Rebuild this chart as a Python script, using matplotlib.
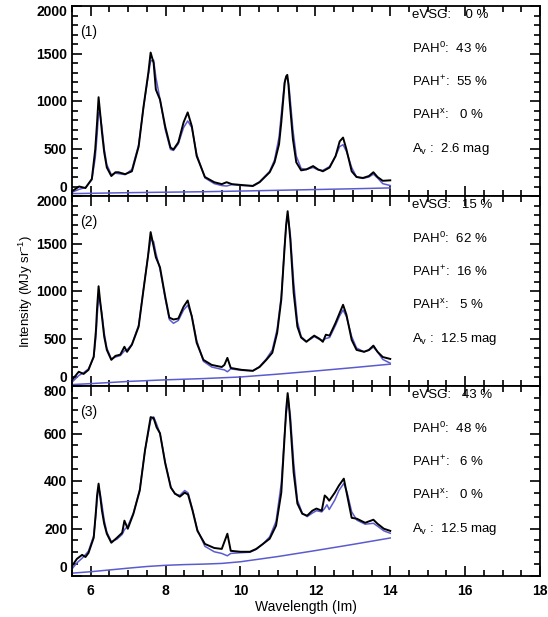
import matplotlib
matplotlib.use('Agg')
import matplotlib.pyplot as plt
from matplotlib.ticker import MultipleLocator
from matplotlib.transforms import ScaledTranslation

plt.rcParams['font.family'] = ['Liberation Sans', 'DejaVu Sans']
plt.rcParams['mathtext.fontset'] = 'custom'
plt.rcParams['mathtext.rm'] = 'Liberation Sans'
plt.rcParams['mathtext.it'] = 'Liberation Sans'

# ---- panel (1) ----
wl1 = [5.5, 5.69, 5.86, 6.03, 6.12, 6.17, 6.21, 6.25, 6.3, 6.36, 6.43, 6.55, 6.66, 6.74, 6.92, 7.1,
       7.28, 7.41, 7.54, 7.6, 7.68, 7.74, 7.85, 7.99, 8.13, 8.21, 8.34, 8.48, 8.59, 8.7, 8.83, 9.05,
       9.3, 9.5, 9.63, 9.77, 10.05, 10.33, 10.51, 10.78, 10.91, 11.03, 11.09, 11.18, 11.22, 11.25,
       11.28, 11.31, 11.4, 11.49, 11.62, 11.76, 11.94, 12.07, 12.2, 12.38, 12.54, 12.65, 12.74,
       12.83, 12.97, 13.1, 13.27, 13.43, 13.55, 13.66, 13.8, 14.0]
obs1 = [50, 100, 84, 180, 490, 775, 1040, 880, 670, 460, 300, 210, 250, 250, 230, 260,
        520, 940, 1300, 1510, 1400, 1120, 1015, 730, 510, 490, 565, 775, 880, 735, 420, 200,
        145, 125, 145, 125, 115, 105, 145, 250, 355, 545, 775, 1190, 1260, 1275,
        1180, 1015, 600, 355, 270, 280, 315, 280, 260, 300, 420, 575, 615,
        490, 260, 200, 190, 210, 250, 200, 160, 165]
mod1 = [40, 70, 90, 170, 400, 640, 880, 860, 720, 500, 330, 225, 240, 235, 225, 280,
        540, 930, 1280, 1420, 1430, 1250, 1020, 700, 490, 480, 550, 720, 790, 720, 440, 190,
        130, 110, 105, 120, 110, 110, 150, 260, 380, 620, 860, 1210, 1250, 1240,
        1190, 1100, 700, 420, 290, 280, 300, 275, 270, 310, 420, 520, 540,
        470, 300, 200, 185, 200, 230, 190, 130, 110]
cwl1 = [5.5, 7, 8, 9, 10, 11, 12, 13, 14]
cont1 = [25, 35, 40, 45, 52, 60, 68, 76, 85]

# ---- panel (2) ----
wl2 = [5.5, 5.68, 5.81, 5.94, 6.08, 6.14, 6.17, 6.21, 6.25, 6.3, 6.36, 6.43, 6.55, 6.66, 6.79, 6.9,
       6.97, 7.1, 7.28, 7.41, 7.53, 7.6, 7.68, 7.74, 7.85, 7.99, 8.1, 8.21, 8.34, 8.48, 8.59, 8.7,
       8.83, 9.01, 9.23, 9.5, 9.57, 9.65, 9.74, 10.03, 10.33, 10.51, 10.69, 10.85, 10.98, 11.09,
       11.18, 11.22, 11.26, 11.29, 11.33, 11.42, 11.52, 11.62, 11.76, 11.9, 11.97, 12.11, 12.2,
       12.28, 12.38, 12.54, 12.65, 12.74, 12.83, 12.97, 13.1, 13.3, 13.43, 13.55, 13.66, 13.8, 14.0]
obs2 = [63, 150, 127, 170, 310, 590, 820, 1050, 900, 730, 520, 380, 275, 317, 330, 413,
        360, 435, 625, 1015, 1365, 1620, 1470, 1355, 1250, 940, 720, 700, 710, 835, 900, 730,
        455, 275, 222, 200, 222, 296, 190, 170, 160, 200, 275, 350, 560, 910,
        1470, 1700, 1840, 1720, 1545, 985, 625, 510, 465, 510, 530, 497, 465,
        540, 530, 665, 770, 855, 750, 485, 380, 360, 380, 425, 360, 305, 285]
mod2 = [40, 110, 140, 180, 300, 520, 730, 920, 880, 760, 560, 400, 285, 305, 320, 370,
        380, 440, 640, 1020, 1370, 1540, 1520, 1400, 1230, 920, 700, 660, 690, 800, 850, 740,
        480, 260, 200, 175, 170, 150, 180, 165, 160, 205, 285, 380, 600, 950,
        1480, 1680, 1780, 1720, 1600, 1100, 680, 520, 470, 500, 520, 490, 480,
        500, 510, 640, 740, 800, 730, 520, 400, 360, 375, 410, 360, 280, 240]
cwl2 = [5.5, 6, 7, 8, 9, 10, 11, 12, 13, 14]
cont2 = [15, 25, 48, 65, 78, 95, 125, 158, 193, 230]

# ---- panel (3) ----
wl3 = [5.5, 5.63, 5.77, 5.86, 5.94, 6.08, 6.14, 6.17, 6.21, 6.25, 6.3, 6.36, 6.43, 6.55, 6.7, 6.84,
       6.9, 6.99, 7.14, 7.31, 7.45, 7.6, 7.68, 7.76, 7.85, 7.99, 8.14, 8.25, 8.38, 8.51, 8.6, 8.72,
       8.85, 9.05, 9.3, 9.5, 9.65, 9.74, 10.0, 10.25, 10.42, 10.6, 10.78, 10.95, 11.09, 11.18,
       11.22, 11.26, 11.29, 11.33, 11.42, 11.52, 11.65, 11.78, 11.92, 12.03, 12.17, 12.25, 12.31,
       12.37, 12.52, 12.63, 12.76, 12.85, 12.97, 13.11, 13.33, 13.55, 13.66, 13.83, 14.0]
obs3 = [42, 72, 89, 80, 97, 161, 275, 340, 389, 340, 275, 220, 178, 140, 161, 182,
        233, 199, 262, 360, 529, 669, 665, 626, 601, 474, 372, 347, 334, 351, 343, 275,
        190, 135, 118, 114, 178, 106, 102, 102, 114, 135, 157, 212, 351, 592,
        700, 770, 730, 648, 436, 305, 262, 254, 275, 284, 275, 339, 330,
        317, 351, 381, 410, 339, 245, 241, 224, 237, 220, 199, 190]
mod3 = [30, 55, 75, 90, 105, 170, 260, 320, 370, 350, 300, 235, 185, 145, 155, 175,
        195, 210, 265, 365, 530, 655, 670, 640, 600, 480, 375, 345, 340, 360, 350, 280,
        195, 125, 102, 95, 85, 95, 98, 100, 112, 135, 165, 230, 390, 600,
        680, 725, 720, 680, 480, 320, 265, 250, 265, 275, 270, 285, 300,
        280, 320, 360, 390, 350, 270, 235, 218, 222, 210, 190, 180]
cwl3 = [5.5, 6, 7, 7.5, 8, 8.5, 9, 9.5, 10, 11, 12, 13, 14]
cont3 = [12, 18, 33, 40, 45, 48, 50, 53, 60, 82, 107, 133, 160]

panel_labels = ['(1)', '(2)', '(3)']
evsg = ['0', '15', '43']
pah0 = ['43', '62', '48']
pahp = ['55', '16', '6']
pahx = ['0', '5', '0']
av = ['2.6', '12.5', '12.5']
yticks = [[0, 500, 1000, 1500, 2000], [0, 500, 1000, 1500, 2000], [0, 200, 400, 600, 800]]
yminor = [100, 100, 50]

blue = '#5b5bd0'

fig = plt.figure(figsize=(5.48, 6.17), dpi=100)
left, right = 72 / 548, 540 / 548
tops = [6, 196, 386]
h = 190
data = [(wl1, obs1, mod1, cwl1, cont1), (wl2, obs2, mod2, cwl2, cont2), (wl3, obs3, mod3, cwl3, cont3)]

for i in range(3):
    bottom = 1 - (tops[i] + h) / 617
    ax = fig.add_axes([left, bottom, right - left, h / 617])
    wl, obs, mod, cwl, cont = data[i]
    ax.plot(cwl, cont, color=blue, lw=1.1)
    ax.plot(wl, mod, color=blue, lw=1.1)
    ax.plot(wl, obs, color='black', lw=1.4)
    ax.set_xlim(5.5, 18)
    ax.set_ylim(yticks[i][0], yticks[i][-1])
    ax.xaxis.set_major_locator(MultipleLocator(2))
    ax.xaxis.set_minor_locator(MultipleLocator(0.5))
    ax.set_yticks(yticks[i])
    ax.yaxis.set_minor_locator(MultipleLocator(yminor[i]))
    ax.tick_params(which='both', direction='in', top=True, right=True, width=1.2)
    ax.tick_params(which='major', length=7, labelsize=10)
    ax.tick_params(which='minor', length=4)
    ax.tick_params(axis='x', pad=6)
    for s in ax.spines.values():
        s.set_linewidth(1.3)
    for lab in ax.get_yticklabels():
        lab.set_fontweight('bold')
    yt = ax.yaxis.get_major_ticks()
    # IDL-style: end labels pushed inside the panel
    yt[0].label1.set_transform(yt[0].label1.get_transform() + ScaledTranslation(0, 6.5 / 72, fig.dpi_scale_trans))
    yt[-1].label1.set_transform(yt[-1].label1.get_transform() + ScaledTranslation(0, -3 / 72, fig.dpi_scale_trans))
    if i < 2:
        ax.tick_params(axis='x', labelbottom=False)
    else:
        for lab in ax.get_xticklabels():
            lab.set_fontweight('bold')
        ax.set_xlabel('Wavelength (Im)', fontsize=10, labelpad=1)
    ax.text(0.017, 0.863, panel_labels[i], transform=ax.transAxes, fontsize=10, va='center')
    lines = ['eVSG: %4s %%' % evsg[i],
             r'PAH$^{0}$: %3s %%' % pah0[i],
             r'PAH$^{+}$: %3s %%' % pahp[i],
             r'PAH$^{x}$: %3s %%' % pahx[i],
             r'A$_{v}$ :  %s mag' % av[i]]
    for k, t in enumerate(lines):
        ax.text(0.727, 0.953 - 0.176 * k, t, transform=ax.transAxes, fontsize=9.5, va='center')

fig.text(0.047, 1 - 291 / 617, 'Intensity (MJy sr$^{-1}$)', rotation=90, fontsize=9.5,
         va='center', ha='center')

fig.savefig('out.png', dpi=100)
